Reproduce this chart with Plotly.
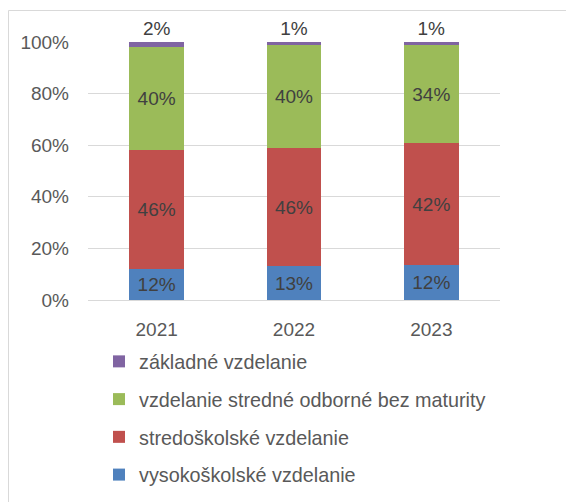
import plotly.graph_objects as go

years = ["2021", "2022", "2023"]
series_names = ["vysokoškolské vzdelanie", "stredoškolské vzdelanie",
                "vzdelanie stredné odborné bez maturity", "základné vzdelanie"]
vysokoskolske = [12, 13, 12]
stredoskolske = [46, 46, 42]
stredne_odborne = [40, 40, 34]
zakladne = [2, 1, 1]
y_ticks = [0, 20, 40, 60, 80, 100]
y_tick_labels = ["0%", "20%", "40%", "60%", "80%", "100%"]

colors = ["#4F81BD", "#C0504D", "#9BBB59", "#8064A2"]
values = [vysokoskolske, stredoskolske, stredne_odborne, zakladne]

FONT = "Liberation Sans, Arial, sans-serif"
FS = 19
fig = go.Figure()
n = len(series_names)
for i, (name, vals, col) in enumerate(zip(series_names, values, colors)):
    last = i == n - 1
    fig.add_trace(go.Bar(
        x=years, y=vals, name=name, marker=dict(color=col, line=dict(width=0)),
        text=[f"{v}%" for v in vals],
        textposition="outside" if last else "inside",
        insidetextanchor="middle",
        textfont=dict(family=FONT, size=FS, color="#404040"),
        outsidetextfont=dict(family=FONT, size=FS, color="#404040"),
        insidetextfont=dict(family=FONT, size=FS, color="#404040"),
        cliponaxis=False, hoverinfo="skip", legendgroup=f"g{i}",
        legendrank=n - i,
    ))

W0, H0 = 574, 502
L, R, T, B = 80, 82, 34, 210
pw = W0 - L - R
ph = H0 - T - B

fig.update_layout(
    width=W0, height=H0,
    barmode="stack", barnorm="percent", bargap=0.6,
    margin=dict(l=L, r=R, t=T, b=B, autoexpand=False),
    paper_bgcolor="white", plot_bgcolor="white",
    font=dict(family=FONT, size=FS, color="#595959"),
    legend=dict(
        orientation="v", traceorder="grouped",
        x=(91 - L) / pw, xanchor="left",
        y=(H0 - B - 334) / ph, yanchor="top",
        font=dict(family=FONT, size=19.8, color="#595959"),
        tracegroupgap=9, bgcolor="rgba(0,0,0,0)",
    ),
    xaxis=dict(showgrid=False, showline=False, ticks="", ticklabelstandoff=16,
               automargin=False,
               tickfont=dict(family=FONT, size=FS, color="#595959")),
    yaxis=dict(range=[0, 100], tickvals=y_ticks, ticktext=y_tick_labels,
               showgrid=True, gridcolor="#D9D9D9", gridwidth=1,
               zeroline=True, zerolinecolor="#D9D9D9", zerolinewidth=1,
               showline=False, ticks="", ticklabelstandoff=18,
               automargin=False,
               tickfont=dict(family=FONT, size=FS, color="#595959")),
    shapes=[dict(type="rect", xref="paper", yref="paper",
                 x0=(0.5 - L) / pw, x1=(W0 + 5 - L) / pw,
                 y0=(H0 - B - (H0 + 5)) / ph, y1=(H0 - B - 2.5) / ph,
                 line=dict(color="#D9D9D9", width=1), layer="below")],
)

fig.write_html("out.html")
